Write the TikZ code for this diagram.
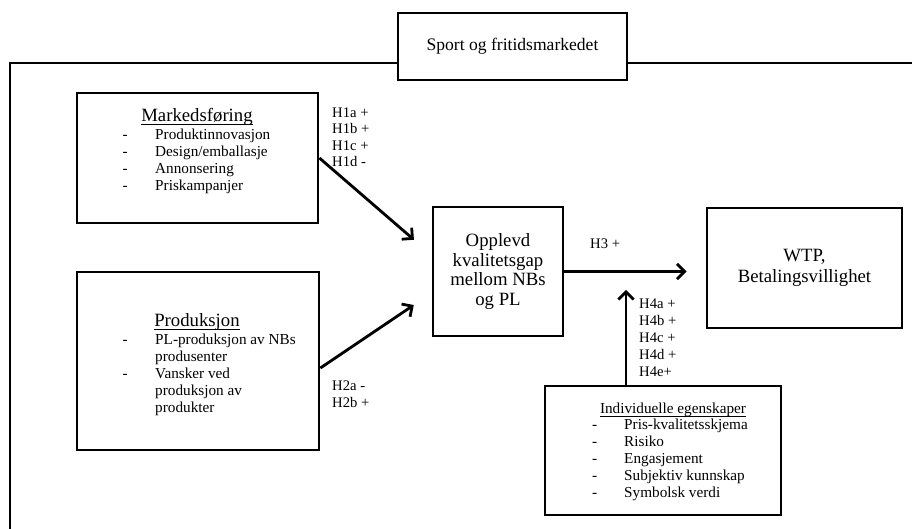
\documentclass[tikz,border=0pt]{standalone}
\usepackage{fontspec}
\setmainfont{Liberation Serif}
\usetikzlibrary{arrows.meta,shadows}

\newcommand{\ulhead}[1]{\underline{\smash{#1}\rule[-1.5pt]{0pt}{0pt}}}

\tikzset{
  box/.style={draw, rectangle, line width=2.4pt, fill=white, inner sep=0pt,
    drop shadow={shadow xshift=0.6pt, shadow yshift=-1.2pt, opacity=0.3}},
  head/.style={anchor=base, inner sep=0pt, font=\fontsize{16}{18}\selectfont},
  item/.style={anchor=base west, inner sep=0pt, font=\fontsize{13}{15}\selectfont},
  hyp/.style={anchor=base west, inner sep=0pt, font=\fontsize{12.5}{15}\selectfont},
  arr/.style={->, line width=2.4pt},
}

\begin{document}
\begin{tikzpicture}[x=0.03cm, y=-0.03cm, >={Straight Barb[length=6.5pt,width=13pt]}]
\useasboundingbox (0,0) rectangle (912,529);

% market frame
\draw[line width=2.4pt] (920,63) -- (10,63) -- (10,540);
\node[box, minimum width=6.87cm, minimum height=2.01cm, font=\fontsize{15}{18}\selectfont] (market) at (512.5,46.5) {Sport og fritidsmarkedet};

% Markedsforing
\node[box, minimum width=7.23cm, minimum height=3.9cm] (mark) at (197.5,158) {};
\node[head] (markhead) at (197,121) {\ulhead{Markedsføring}};
\foreach \t [count=\i] in {Produktinnovasjon, Design/emballasje, Annonsering, Priskampanjer}{
  \node[item] (markdash\i) at (122.5,122+17*\i) {-};
  \node[item] (markitem\i) at (155,122+17*\i) {\t};
}

% Produksjon
\node[box, minimum width=7.26cm, minimum height=5.34cm] (prod) at (198,361) {};
\node[head] (prodhead) at (197,326) {\ulhead{Produksjon}};
\node[item] (proddash1) at (122.5,344) {-};
\node[item] (proddash2) at (122.5,378) {-};
\foreach \t [count=\i] in {PL-produksjon av NBs, produsenter, Vansker ved, produksjon av, produkter}
  \node[item] (proditem\i) at (155,327+17*\i) {\t};

% gap and WTP
\node[box, minimum width=3.9cm, minimum height=3.87cm, align=center, font=\fontsize{16}{17}\selectfont] (gap) at (498,271.5) {Opplevd\\kvalitetsgap\\mellom NBs\\og PL};
\node[box, minimum width=5.85cm, minimum height=3.6cm, align=center, font=\fontsize{16}{18}\selectfont] (wtp) at (804.5,268) {WTP,\\Betalingsvillighet};

% Individuelle egenskaper
\node[box, minimum width=7.08cm, minimum height=3.87cm] (indiv) at (663,450.5) {};
\node[head, font=\fontsize{13}{15}\selectfont] (indivhead) at (673,413) {\ulhead{Individuelle egenskaper}};
\foreach \t [count=\i] in {Pris-kvalitetsskjema, Risiko, Engasjement, Subjektiv kunnskap, Symbolsk verdi}{
  \node[item] (indivdash\i) at (592,413+16.8*\i) {-};
  \node[item] (indivitem\i) at (624,413+16.8*\i) {\t};
}

% hypotheses
\foreach \t [count=\i] in {H1a +, H1b +, H1c +, H1d -}
  \node[hyp] (hone\i) at (332,100.5+16.6*\i) {\t};
\node[hyp] (htwoa) at (332,390) {H2a -};
\node[hyp] (htwob) at (332,407) {H2b +};
\node[hyp] (hthree) at (590,248) {H3 +};
\foreach \t [count=\i] in {H4a +, H4b +, H4c +, H4d +, H4e+}
  \node[hyp] (hfour\i) at (639,292+16.8*\i) {\t};

% arrows
\draw[arr, shorten >=0.7cm] (mark.east) -- ([yshift=0.495cm]gap.west);
\draw[arr, shorten >=0.645cm] ([yshift=-0.21cm]prod.east) -- ([yshift=-0.645cm]gap.west);
\draw[arr, shorten >=0.57cm] (gap.east) -- (gap.east -| wtp.west);
\draw[arr, shorten >=0.55cm] ([xshift=-1.11cm]indiv.north) -- ([xshift=-1.11cm]indiv.north |- gap.east);
\end{tikzpicture}
\end{document}
